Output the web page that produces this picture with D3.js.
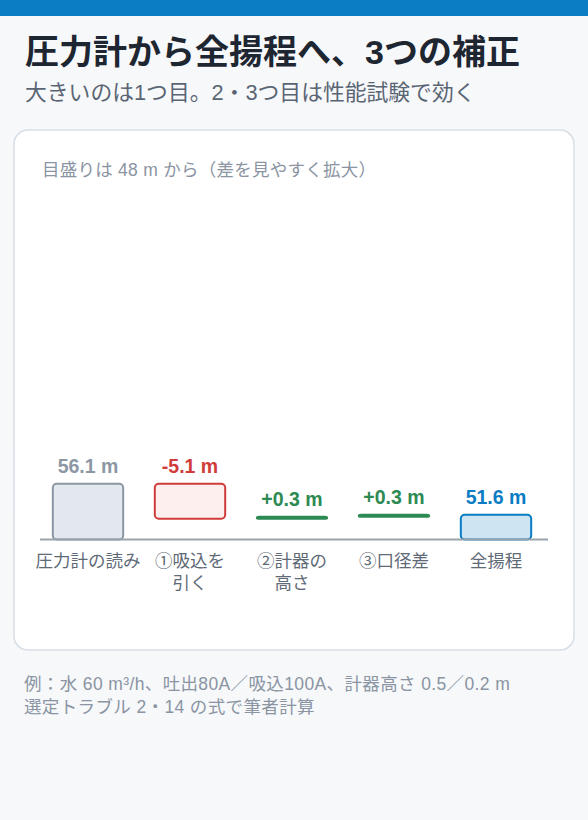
<!DOCTYPE html>
<html lang="ja">
<head>
<meta charset="utf-8">
<script src="https://cdn.jsdelivr.net/npm/d3@7/dist/d3.min.js"></script>
<style>
  html, body { margin: 0; padding: 0; background: #f6f8fa; }
  svg { display: block; }
  text { font-family: "Liberation Sans", "Noto Sans CJK JP", sans-serif; }
</style>
</head>
<body>
<div id="chart"></div>
<script>
// ---- data ----
const title = "圧力計から全揚程へ、3つの補正";
const subtitle = "大きいのは1つ目。2・3つ目は性能試験で効く";
const scaleNote = "目盛りは 48 m から（差を見やすく拡大）";
const footerLines = [
  "例：水 60 m³/h、吐出80A／吸込100A、計器高さ 0.5／0.2 m",
  "選定トラブル 2・14 の式で筆者計算"
];
const categories = ["圧力計の読み", "①吸込を引く", "②計器の高さ", "③口径差", "全揚程"];
const categoryLines = [["圧力計の読み"], ["①吸込を", "引く"], ["②計器の", "高さ"], ["③口径差"], ["全揚程"]];
const values = [56.1, -5.1, 0.3, 0.3, 51.6];
const kinds = ["start", "delta", "delta", "delta", "total"];
const valueLabels = ["56.1 m", "-5.1 m", "+0.3 m", "+0.3 m", "51.6 m"];
const axisMin = 48;

// ---- layout ----
const W = 588, H = 820;
const svg = d3.select("#chart").append("svg").attr("width", W).attr("height", H);

svg.append("rect").attr("x", 0).attr("y", 0).attr("width", W).attr("height", 16).attr("fill", "#0a7dc5");

svg.append("text").attr("x", 25).attr("y", 64)
  .attr("font-size", 34).attr("font-weight", 700).attr("fill", "#1e2632")
  .text(title);
svg.append("text").attr("x", 25).attr("y", 99.5)
  .attr("font-size", 21.8).attr("fill", "#5a6574")
  .text(subtitle);

// card
svg.append("rect").attr("x", 14).attr("y", 130).attr("width", 560).attr("height", 520)
  .attr("rx", 14).attr("fill", "#ffffff").attr("stroke", "#d6dee6").attr("stroke-width", 1.5);

svg.append("text").attr("x", 42).attr("y", 176)
  .attr("font-size", 17.5).attr("letter-spacing", 0.25).attr("fill", "#8a94a2")
  .text(scaleNote);

// waterfall spans
let running = 0;
const spans = values.map((v, i) => {
  let lo, hi;
  if (kinds[i] === "start") { lo = axisMin; hi = v; running = v; }
  else if (kinds[i] === "delta") { const a = running; running = running + v; lo = Math.min(a, running); hi = Math.max(a, running); }
  else { lo = axisMin; hi = v; }
  return { cat: categories[i], lines: categoryLines[i], lo, hi, v, kind: kinds[i], label: valueLabels[i] };
});

const x = d3.scaleBand().domain(categories).range([37, 547]).paddingInner(0.31).paddingOuter(0.155);
const y = d3.scaleLinear().domain([axisMin, d3.max(values)]).range([539.5, 483.7]);

function style(d) {
  if (d.kind === "start") return { fill: "#e3e8ee", stroke: "#8c97a4", text: "#8c97a4" };
  if (d.kind === "total") return { fill: "#cfe4f3", stroke: "#0a7cc4", text: "#0a7cc4" };
  if (d.v < 0) return { fill: "#fcefed", stroke: "#d03c3a", text: "#d03c3a" };
  return { fill: "#cfeedd", stroke: "#2c8a52", text: "#2c8a52" };
}

const g = svg.append("g");

g.selectAll("rect.bar").data(spans).join("rect")
  .attr("class", "bar")
  .attr("x", d => x(d.cat))
  .attr("width", x.bandwidth())
  .attr("y", d => y(d.hi))
  .attr("height", d => Math.max(0, y(d.lo) - y(d.hi)))
  .attr("rx", d => (y(d.lo) - y(d.hi)) < 6 ? 2.5 : 4)
  .attr("fill", d => style(d).fill)
  .attr("stroke", d => style(d).stroke)
  .attr("stroke-width", 2);

// baseline axis
g.append("line").attr("x1", 40).attr("x2", 548).attr("y1", y(axisMin)).attr("y2", y(axisMin))
  .attr("stroke", "#9aa3ad").attr("stroke-width", 2);

g.selectAll("text.val").data(spans).join("text")
  .attr("class", "val")
  .attr("x", d => x(d.cat) + x.bandwidth() / 2)
  .attr("y", d => y(d.hi) - 10.5)
  .attr("text-anchor", "middle")
  .attr("font-size", 19.5).attr("font-weight", 700)
  .attr("fill", d => style(d).text)
  .text(d => d.label);

const lab = g.selectAll("text.cat").data(spans).join("text")
  .attr("class", "cat")
  .attr("x", d => x(d.cat) + x.bandwidth() / 2)
  .attr("y", 566.5)
  .attr("text-anchor", "middle")
  .attr("font-size", 17.5).attr("fill", "#5f6a77");
lab.selectAll("tspan").data(d => d.lines.map(l => ({ l, cx: x(d.cat) + x.bandwidth() / 2 }))).join("tspan")
  .attr("x", d => d.cx)
  .attr("dy", (d, i) => i === 0 ? 0 : 22)
  .text(d => d.l);

svg.selectAll("text.foot").data(footerLines).join("text")
  .attr("class", "foot")
  .attr("x", 24).attr("y", (d, i) => 690 + i * 23)
  .attr("font-size", 17.5).attr("letter-spacing", 0.37).attr("fill", "#8a94a2")
  .text(d => d);
</script>
</body>
</html>
